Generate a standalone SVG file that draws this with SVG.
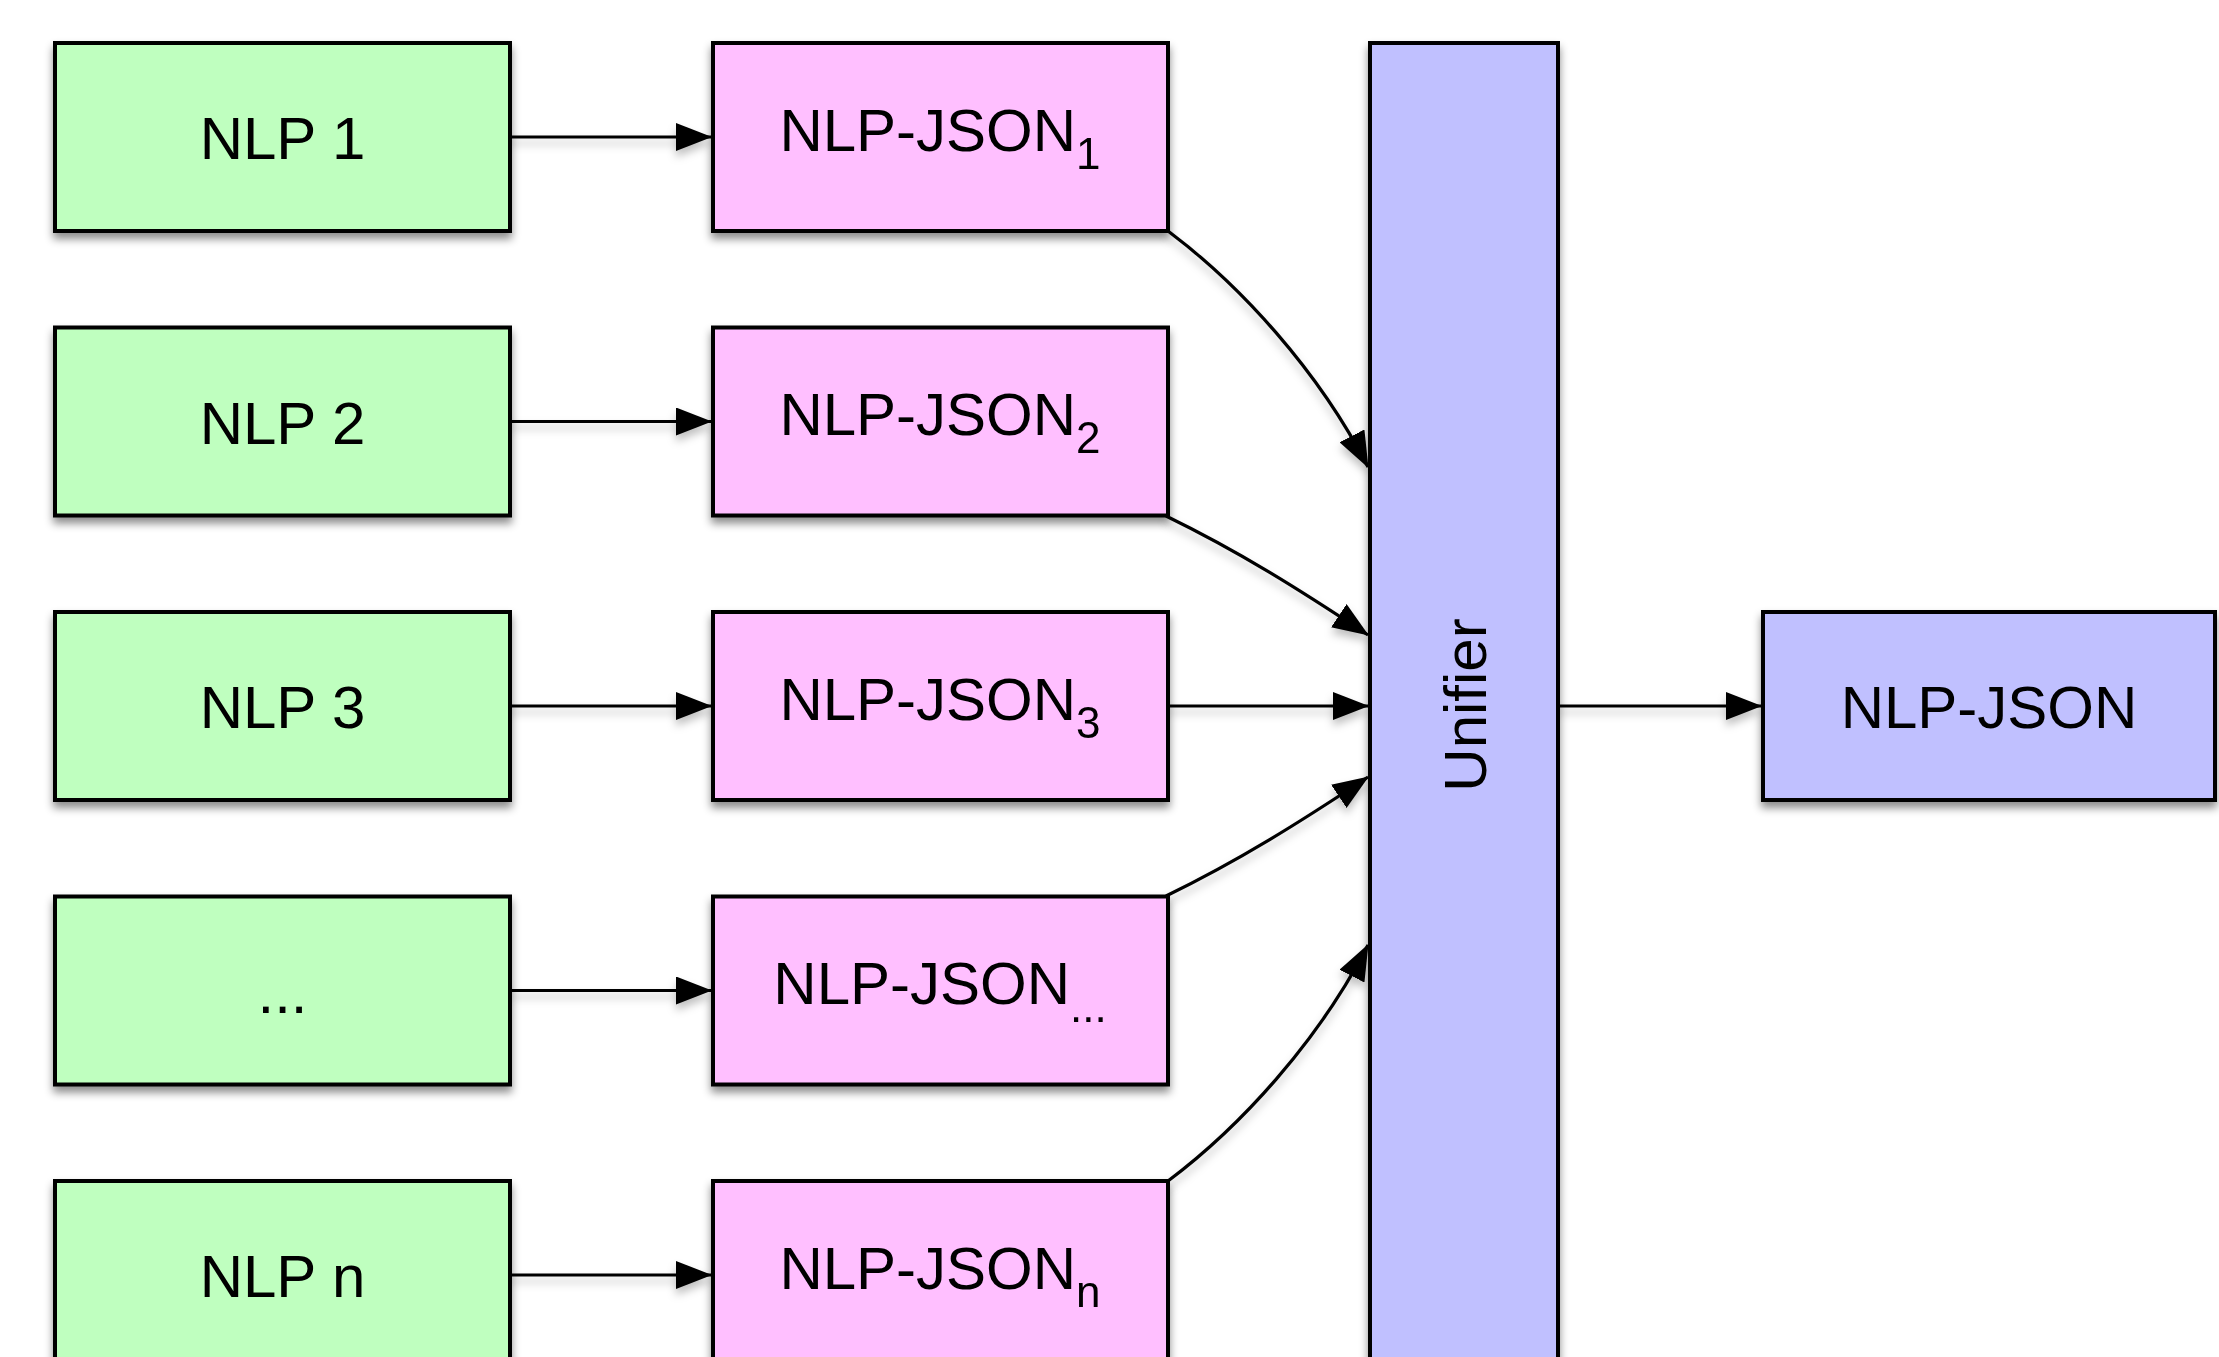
<svg xmlns="http://www.w3.org/2000/svg" width="2219" height="1357" viewBox="0 0 2219 1357">
<style>
  .box { stroke: #000; stroke-width: 4; }
  .green { fill: #BFFFBF; }
  .pink { fill: #FFBFFF; }
  .blue { fill: #C0C0FF; }
  .lbl { font-family: "Liberation Sans", Arial, sans-serif; font-size: 60px; fill: #000; text-anchor: middle; }
  .sub { font-size: 44px; }
  .conn { fill: none; stroke: #000; stroke-width: 3.2; }
</style>
<defs>
  <filter id="shadow" x="-10%" y="-10%" width="120%" height="130%">
    <feDropShadow dx="0" dy="6" stdDeviation="4" flood-color="#000" flood-opacity="0.45"/>
  </filter>
  <filter id="lshadow" x="-20%" y="-50%" width="140%" height="200%">
    <feDropShadow dx="0" dy="6" stdDeviation="4" flood-color="#000" flood-opacity="0.25"/>
  </filter>
  <marker id="arrow" viewBox="0 0 36 28" refX="35" refY="14" markerWidth="36" markerHeight="28" markerUnits="userSpaceOnUse" orient="auto">
    <path d="M0,0 L36,14 L0,28 z" fill="#000"/>
  </marker>
</defs>
<rect width="2219" height="1357" fill="#fff"/>

<g id="connectors" filter="url(#lshadow)">
  <line class="conn" x1="510" y1="137" x2="711" y2="137" marker-end="url(#arrow)"/>
  <line class="conn" x1="510" y1="421.5" x2="711" y2="421.5" marker-end="url(#arrow)"/>
  <line class="conn" x1="510" y1="706" x2="711" y2="706" marker-end="url(#arrow)"/>
  <line class="conn" x1="510" y1="990.5" x2="711" y2="990.5" marker-end="url(#arrow)"/>
  <line class="conn" x1="510" y1="1275" x2="711" y2="1275" marker-end="url(#arrow)"/>
  <path class="conn" d="M1168,231 C1240,285 1318,370 1368,467" marker-end="url(#arrow)"/>
  <path class="conn" d="M1166,516 C1240,552 1300,590 1368,635" marker-end="url(#arrow)"/>
  <line class="conn" x1="1168" y1="706" x2="1368" y2="706" marker-end="url(#arrow)"/>
  <path class="conn" d="M1166,896 C1240,860 1300,822 1368,777" marker-end="url(#arrow)"/>
  <path class="conn" d="M1168,1181 C1240,1127 1318,1042 1368,945" marker-end="url(#arrow)"/>
  <line class="conn" x1="1558" y1="706" x2="1761" y2="706" marker-end="url(#arrow)"/>
</g>

<g id="nlp1" filter="url(#shadow)">
  <rect class="box green" x="55" y="43" width="455" height="188"/>
  <text class="lbl" x="282.5" y="159">NLP 1</text>
</g>
<g id="nlp2" filter="url(#shadow)">
  <rect class="box green" x="55" y="327.5" width="455" height="188"/>
  <text class="lbl" x="282.5" y="443.5">NLP 2</text>
</g>
<g id="nlp3" filter="url(#shadow)">
  <rect class="box green" x="55" y="612" width="455" height="188"/>
  <text class="lbl" x="282.5" y="728">NLP 3</text>
</g>
<g id="nlpdots" filter="url(#shadow)">
  <rect class="box green" x="55" y="896.5" width="455" height="188"/>
  <text class="lbl" x="282.5" y="1012.5">...</text>
</g>
<g id="nlpn" filter="url(#shadow)">
  <rect class="box green" x="55" y="1181" width="455" height="188"/>
  <text class="lbl" x="282.5" y="1297">NLP n</text>
</g>

<g id="json1" filter="url(#shadow)">
  <rect class="box pink" x="713" y="43" width="455" height="188"/>
  <text class="lbl" x="940" y="150.5">NLP-JSON<tspan class="sub" dy="18">1</tspan></text>
</g>
<g id="json2" filter="url(#shadow)">
  <rect class="box pink" x="713" y="327.5" width="455" height="188"/>
  <text class="lbl" x="940" y="435">NLP-JSON<tspan class="sub" dy="18">2</tspan></text>
</g>
<g id="json3" filter="url(#shadow)">
  <rect class="box pink" x="713" y="612" width="455" height="188"/>
  <text class="lbl" x="940" y="719.5">NLP-JSON<tspan class="sub" dy="18">3</tspan></text>
</g>
<g id="jsondots" filter="url(#shadow)">
  <rect class="box pink" x="713" y="896.5" width="455" height="188"/>
  <text class="lbl" x="940" y="1004">NLP-JSON<tspan class="sub" dy="18">...</tspan></text>
</g>
<g id="jsonn" filter="url(#shadow)">
  <rect class="box pink" x="713" y="1181" width="455" height="188"/>
  <text class="lbl" x="940" y="1288.5">NLP-JSON<tspan class="sub" dy="18">n</tspan></text>
</g>

<g id="unifier" filter="url(#shadow)">
  <rect class="box blue" x="1370" y="43" width="188" height="1340"/>
  <text class="lbl" transform="translate(1486,705) rotate(-90)" x="0" y="0">Unifier</text>
</g>

<g id="output" filter="url(#shadow)">
  <rect class="box blue" x="1763" y="612" width="452" height="188"/>
  <text class="lbl" x="1989" y="728">NLP-JSON</text>
</g>
</svg>
